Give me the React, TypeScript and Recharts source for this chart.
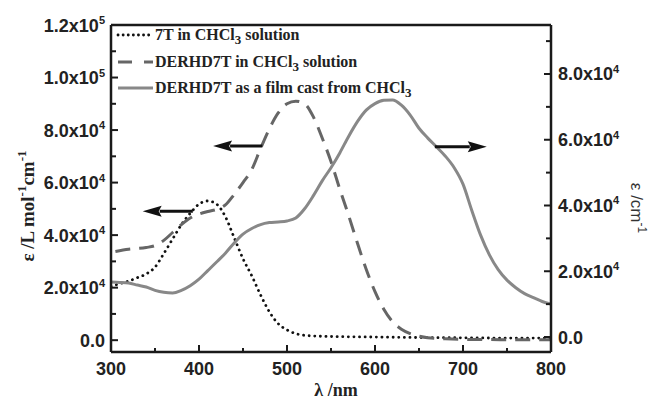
import React from 'react';
import { LineChart, Line, XAxis, YAxis, ReferenceLine, Legend } from 'recharts';

// 7T in CHCl3 solution (left axis)
const wl7T = [300, 310, 320, 330, 340, 350, 360, 370, 380, 390, 400, 410, 420, 430, 440, 450, 460, 470, 480, 490, 500, 510, 525, 550, 600, 650, 700, 750, 800];
const eps7T = [20500, 21500, 22500, 23800, 25200, 27800, 33000, 38500, 44000, 48300, 51800, 53000, 51800, 47000, 39000, 31000, 24500, 17200, 10800, 6300, 3900, 2500, 1700, 1400, 1200, 1000, 900, 800, 800];

// DERHD7T in CHCl3 solution (left axis)
const wlSol = [305, 320, 340, 350, 360, 370, 380, 390, 400, 410, 420, 430, 440, 450, 460, 470, 480, 490, 500, 510, 520, 530, 540, 550, 560, 570, 580, 590, 600, 610, 620, 630, 640, 650, 660, 680, 700, 750, 800];
const epsSol = [33800, 34600, 35300, 36000, 38000, 41000, 44000, 46500, 48000, 49000, 49800, 51500, 55500, 60000, 65000, 73000, 80500, 86500, 90000, 91000, 90000, 85000, 77000, 68000, 57500, 47500, 37000, 27000, 18500, 11800, 7000, 4200, 2500, 1500, 900, 500, 300, 200, 200];

// DERHD7T film cast from CHCl3 (right axis)
const wlFilm = [300, 310, 320, 330, 340, 350, 360, 370, 380, 390, 400, 410, 420, 430, 440, 450, 460, 470, 480, 490, 500, 510, 520, 530, 540, 550, 560, 570, 580, 590, 600, 610, 620, 630, 640, 650, 660, 670, 680, 690, 700, 710, 720, 730, 740, 750, 760, 770, 780, 790, 800];
const epsFilm = [16700, 16600, 16400, 15800, 15200, 14200, 13600, 13400, 14200, 15600, 17600, 20200, 22800, 25500, 28600, 31300, 33000, 34200, 34800, 35000, 35300, 36200, 39000, 43000, 47500, 51500, 56000, 61000, 65500, 69000, 71000, 72000, 72100, 70500, 67500, 63500, 60500, 57800, 55000, 51500, 46500, 38500, 31000, 25000, 20500, 17300, 15000, 13200, 12000, 10800, 10000];

const xTicks = [300, 350, 400, 450, 500, 550, 600, 650, 700, 750, 800];
const leftTicks = [0, 10000, 20000, 30000, 40000, 50000, 60000, 70000, 80000, 90000, 100000, 110000, 120000];
const rightTicks = [0, 10000, 20000, 30000, 40000, 50000, 60000, 70000, 80000, 90000];

// annotation arrows (left-axis units): start, tip, level
const arrowFrom = [472, 393, 668];
const arrowTo = [416, 336, 727];
const arrowLevel = [73900, 49100, 73600];

const toRows = (xs: number[], ys: number[]) => xs.map((nm, i) => ({ nm, v: ys[i] }));
const data7T = toRows(wl7T, eps7T);
const dataSol = toRows(wlSol, epsSol);
const dataFilm = toRows(wlFilm, epsFilm);

const INK = '#1a1a1a';
const SANS = '"Liberation Sans", Arial, sans-serif';
const SERIF = '"Liberation Serif", "Times New Roman", serif';

const splitSci = (v: number): [string, string | null] => {
  if (v === 0) return ['0.0', null];
  const exp = Math.floor(Math.log10(v));
  return [(v / Math.pow(10, exp)).toFixed(1) + 'x10', String(exp)];
};

const TickText = ({ x, y, anchor, v }: any) => {
  const [m, e] = splitSci(v);
  return (
    <text x={x} y={y} textAnchor={anchor} fontFamily={SANS} fontWeight="bold" fontSize={18} fill="#222">
      <tspan>{m}</tspan>
      {e && (
        <tspan dy={-7.5} fontSize={11}>
          {e}
        </tspan>
      )}
    </text>
  );
};

const LeftTick = ({ x, y, payload }: any) => {
  const major = payload.value % 20000 === 0;
  return (
    <g>
      <line x1={x} x2={x + (major ? 7 : 5)} y1={y} y2={y} stroke={INK} strokeWidth={2} />
      {major && <TickText x={x - 6} y={y + 6.5} anchor="end" v={payload.value} />}
    </g>
  );
};

const RightTick = ({ x, y, payload }: any) => {
  const major = payload.value % 20000 === 0;
  return (
    <g>
      <line x1={x} x2={x - (major ? 7 : 5)} y1={y} y2={y} stroke={INK} strokeWidth={2} />
      {major && <TickText x={x + 7} y={y + 6.5} anchor="start" v={payload.value} />}
    </g>
  );
};

const BottomTick = ({ x, y, payload }: any) => {
  const major = payload.value % 100 === 0;
  return (
    <g>
      <line x1={x} x2={x} y1={y} y2={y - (major ? 7 : 4)} stroke={INK} strokeWidth={2} />
      {major && (
        <text x={x} y={y + 23} textAnchor="middle" fontFamily={SANS} fontWeight="bold" fontSize={18} fill="#222">
          {payload.value}
        </text>
      )}
    </g>
  );
};

const Arrow = (props: any) => {
  const { x1, y1, x2, y2 } = props;
  const dir = x2 > x1 ? 1 : -1;
  const head = 19;
  const base = x2 - dir * head;
  return (
    <g>
      <line x1={x1} y1={y1} x2={base + dir * 2} y2={y2} stroke="#111" strokeWidth={3} />
      <polygon points={`${x2},${y2} ${base},${y2 - 5.5} ${base + dir * 3},${y2} ${base},${y2 + 5.5}`} fill="#111" />
    </g>
  );
};

const renderLegend = () => (
  <svg width={420} height={80} style={{ display: 'block' }}>
    <g fontFamily={SERIF} fontWeight="bold" fontSize={16} fill="#222">
      <line x1={7} x2={41} y1={10} y2={10} stroke="#111" strokeWidth={2.8} strokeDasharray="0.1 5" strokeLinecap="round" />
      <text x={44} y={15}>
        7T in CHCl<tspan dy={4} fontSize={13}>3</tspan>
        <tspan dy={-4}> solution</tspan>
      </text>
      <line x1={7} x2={42} y1={37} y2={37} stroke="#666" strokeWidth={3} strokeDasharray="14 12" />
      <text x={44} y={42}>
        DERHD7T in CHCl<tspan dy={4} fontSize={13}>3</tspan>
        <tspan dy={-4}> solution</tspan>
      </text>
      <line x1={7} x2={42} y1={63} y2={63} stroke="#888" strokeWidth={3} />
      <text x={44} y={68}>
        DERHD7T as a film cast from CHCl<tspan dy={4} fontSize={13}>3</tspan>
      </text>
    </g>
  </svg>
);

export default function App() {
  return (
    <div style={{ position: 'absolute', left: 0, top: 0, background: '#fff' }}>
      <LineChart width={649} height={403} margin={{ top: 25, right: 0, bottom: 0, left: 0 }}>
        <XAxis
          dataKey="nm"
          type="number"
          domain={[300, 800]}
          ticks={xTicks}
          interval={0}
          allowDataOverflow
          height={51}
          tickSize={0}
          tickMargin={0}
          tickLine={false}
          tick={BottomTick}
          axisLine={{ stroke: INK, strokeWidth: 2.5 }}
        />
        <YAxis
          yAxisId="left"
          type="number"
          domain={[-4500, 120000]}
          ticks={leftTicks}
          interval={0}
          allowDataOverflow
          width={111}
          tickSize={0}
          tickMargin={0}
          tickLine={false}
          tick={LeftTick}
          axisLine={{ stroke: INK, strokeWidth: 2.5 }}
        />
        <YAxis
          yAxisId="right"
          orientation="right"
          type="number"
          domain={[-4560, 94900]}
          ticks={rightTicks}
          interval={0}
          allowDataOverflow
          width={98}
          tickSize={0}
          tickMargin={0}
          tickLine={false}
          tick={RightTick}
          axisLine={{ stroke: INK, strokeWidth: 2.5 }}
        />
        <ReferenceLine yAxisId="left" y={120000} stroke={INK} strokeWidth={2.5} />
        <Legend
          content={renderLegend}
          layout="vertical"
          align="center"
          verticalAlign="middle"
          wrapperStyle={{ left: 111, top: 25, width: 420 }}
        />
        <Line
          data={data7T}
          dataKey="v"
          yAxisId="left"
          type="monotone"
          stroke="#111"
          strokeWidth={2.8}
          strokeDasharray="0.1 5.5"
          strokeLinecap="round"
          dot={false}
          isAnimationActive={false}
        />
        <Line
          data={dataSol}
          dataKey="v"
          yAxisId="left"
          type="monotone"
          stroke="#666"
          strokeWidth={3}
          strokeDasharray="15 9"
          dot={false}
          isAnimationActive={false}
        />
        <Line
          data={dataFilm}
          dataKey="v"
          yAxisId="right"
          type="monotone"
          stroke="#888"
          strokeWidth={3}
          dot={false}
          isAnimationActive={false}
        />
        {arrowFrom.map((from, i) => (
          <ReferenceLine
            key={`arrow-${i}`}
            yAxisId="left"
            segment={[
              { x: from, y: arrowLevel[i] },
              { x: arrowTo[i], y: arrowLevel[i] },
            ]}
            shape={Arrow}
          />
        ))}
        <text transform="translate(34,206) rotate(-90)" textAnchor="middle" fontFamily={SERIF} fontWeight="bold" fontSize={19} fill="#222">
          ε /L mol<tspan dy={-8} fontSize={13}>-1</tspan>
          <tspan dy={8}>cm</tspan>
          <tspan dy={-8} fontSize={13}>-1</tspan>
        </text>
        <text transform="translate(631,208) rotate(90)" textAnchor="middle" fontFamily={SANS} fontSize={17} fill="#333">
          ε /cm<tspan dy={-7} fontSize={12}>-1</tspan>
        </text>
        <text x={336} y={396} textAnchor="middle" fontFamily={SERIF} fontWeight="bold" fontSize={18} fill="#222">
          λ /nm
        </text>
      </LineChart>
    </div>
  );
}
